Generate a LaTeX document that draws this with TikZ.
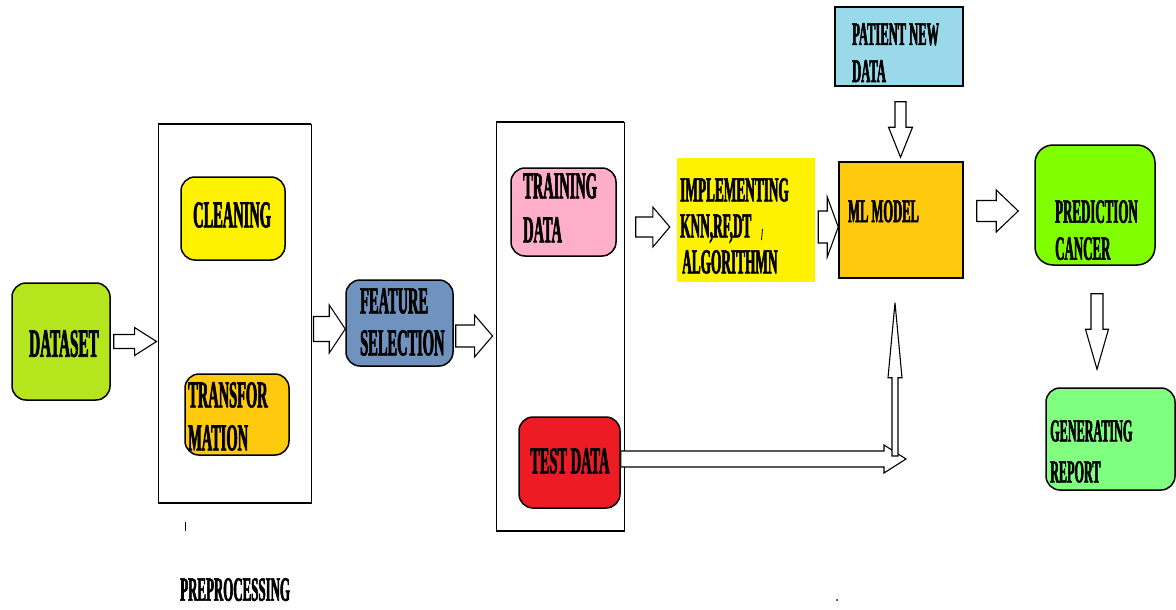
\documentclass[tikz,border=0pt]{standalone}
\usepackage{fontspec}
\usetikzlibrary{calc}
\newfontfamily\tf[FakeStretch=0.38, FakeBold=1.6]{Liberation Serif}
\definecolor{cDataset}{HTML}{B5E61D}
\definecolor{cYellow}{HTML}{FFF200}
\definecolor{cGold}{HTML}{FFC90E}
\definecolor{cSteel}{HTML}{7092BE}
\definecolor{cPink}{HTML}{FFAEC9}
\definecolor{cRed}{HTML}{ED1C24}
\definecolor{cSky}{HTML}{99D9EA}
\definecolor{cLime}{HTML}{80FF00}
\definecolor{cMint}{HTML}{80FF80}
\tikzset{
  rbox/.style={draw=black, line width=1.5pt, rounded corners=14pt, inner sep=0pt},
  sbox/.style={draw=black, line width=1.5pt, inner sep=0pt},
  grp/.style={draw=black, line width=0.9pt, inner sep=0pt},
  barrow/.style={draw=black, line width=1.1pt, fill=white, line join=miter},
  txt/.style={inner sep=0pt, anchor=north west, align=left, text=black},
}
\newcommand\fs[2]{\tf\bfseries\fontsize{#1}{#2}\selectfont}
% horizontal block arrow pointing right: start, end, shaft half, head half, head length
\newcommand\hArrowR[5]{\draw[barrow] let \p1=(#1), \p2=(#2) in
  (\x1,\y1+#3pt) -- (\x2-#5pt,\y1+#3pt) -- (\x2-#5pt,\y1+#4pt) -- (\x2,\y1)
  -- (\x2-#5pt,\y1-#4pt) -- (\x2-#5pt,\y1-#3pt) -- (\x1,\y1-#3pt) -- cycle;}
% vertical block arrow pointing down (image)
\newcommand\vArrowD[5]{\draw[barrow] let \p1=(#1), \p2=(#2) in
  (\x1-#3pt,\y1) -- (\x1-#3pt,\y2+#5pt) -- (\x1-#4pt,\y2+#5pt) -- (\x1,\y2)
  -- (\x1+#4pt,\y2+#5pt) -- (\x1+#3pt,\y2+#5pt) -- (\x1+#3pt,\y1) -- cycle;}
% vertical block arrow pointing up (image)
\newcommand\vArrowU[5]{\draw[barrow] let \p1=(#1), \p2=(#2) in
  (\x1-#3pt,\y1) -- (\x1-#3pt,\y2-#5pt) -- (\x1-#4pt,\y2-#5pt) -- (\x1,\y2)
  -- (\x1+#4pt,\y2-#5pt) -- (\x1+#3pt,\y2-#5pt) -- (\x1+#3pt,\y1) -- cycle;}
\begin{document}
\begin{tikzpicture}[x=1pt, y=-1pt]
\fill[white] (0,0) rectangle (1176,610);
\useasboundingbox (0,0) rectangle (1176,610);

% group boxes
\node[grp, minimum width=153, minimum height=379] (pre) at (234.5,313.5) {};
\draw[line width=2pt] (pre.north west) -- (pre.north east);
\draw[line width=2pt] (pre.south west) -- (pre.south east);
\node[grp, minimum width=128, minimum height=409] (tt) at (560,326.5) {};
\draw[line width=2pt] (tt.north west) -- (tt.north east);
\draw[line width=2pt] (tt.south west) -- (tt.south east);

% boxes
\node[rbox, fill=cDataset, minimum width=98, minimum height=117] (dataset) at (61,341.5) {};
\node[rbox, fill=cYellow, minimum width=104, minimum height=83] (clean) at (233,218.5) {};
\node[rbox, fill=cGold, minimum width=104, minimum height=81] (trans) at (237,414.5) {};
\node[rbox, fill=cSteel, minimum width=107, minimum height=86] (feat) at (399.5,323) {};
\node[rbox, fill=cPink, minimum width=105, minimum height=88] (train) at (563.5,212) {};
\node[rbox, fill=cRed, minimum width=101, minimum height=91] (test) at (569.5,462.5) {};
\node[inner sep=0pt, fill=cYellow, minimum width=138, minimum height=124] (impl) at (746,220) {};
\node[sbox, fill=cGold, minimum width=124, minimum height=116] (ml) at (901,220) {};
\node[sbox, fill=cSky, minimum width=128, minimum height=79] (patient) at (899,46.5) {};
\node[rbox, rounded corners=18pt, fill=cLime, minimum width=120, minimum height=120] (pred) at (1095,205) {};
\node[rbox, fill=cMint, minimum width=129, minimum height=102] (report) at (1110.5,439) {};

% texts
\node[txt, font=\fs{40}{44}] (dsT) at (29,330) {DATASET};
\node[txt, font=\fs{38}{43}] (clT) at (193,202) {CLEANING};
\node[txt, font=\fs{38}{43}] (trT) at (188,382) {TRANSFOR\\MATION};
\node[txt, font=\fs{38}{42}] (feT) at (360,288) {FEATURE\\SELECTION};
\node[txt, font=\fs{38}{44}] (tdT) at (523,173) {TRAINING\\DATA};
\node[txt, font=\fs{38}{43}] (teT) at (530,448) {TEST DATA};
\node[txt, font=\fs{35}{36}] (imT) at (680,178) {IMPLEMENTING\\KNN,RF,DT\\\hspace{2pt}ALGORITHMN};
\node[txt, font=\fs{33}{37}] (mlT) at (848,200) {ML MODEL};
\node[txt, font=\fs{33}{37}] (paT) at (852,23) {PATIENT NEW\\DATA};
\node[txt, font=\fs{34}{37}] (prT) at (1055,200) {PREDICTION\\CANCER};
\node[txt, font=\fs{32}{41}] (reT) at (1050,420) {GENERATING\\REPORT};
\node[txt, font=\fs{34}{36}] (ppT) at (180,578) {PREPROCESSING};

% small marks
\draw[line width=0.8pt] (762.5,229) -- (761.5,240);
\draw[line width=0.8pt] (185,522) -- (185,531);
\fill (837,600) circle (1pt);

% connectors (block arrows)
\hArrowR{$(dataset.east)+(3,0)$}{$(pre.west |- dataset.east)+(-1,0)$}{7}{14}{22}
\hArrowR{$(pre.east |- feat.west)+(2,6)$}{feat.west}{12.5}{24}{16}
\hArrowR{$(feat.east)+(2,13)$}{$(tt.west)+(-3,0)$}{11}{21}{18}
\hArrowR{$(train.east)+(19,15)$}{$(impl.west)+(-7,0)$}{10}{20}{17}
\hArrowR{$(impl.east)+(3,7)$}{ml.west}{16}{30}{11}
\hArrowR{$(ml.east)+(13,-9)$}{$(pred.west)+(-16,0)$}{10.5}{21}{22}
\vArrowD{$(patient.south)+(1.5,15)$}{$(ml.north)+(0,-4)$}{5.5}{12}{30}
\vArrowD{$(pred.south)+(2,28)$}{$(report.north)+(0,-18)$}{6}{11.5}{40}
\coordinate (tj) at (906,459);
\coordinate (tv) at (895,456);
\hArrowR{test.east |- tj}{tj}{8}{14}{22}
\vArrowU{tv}{$(ml.south)+(-6,24)$}{3}{7}{75}
\end{tikzpicture}
\end{document}
